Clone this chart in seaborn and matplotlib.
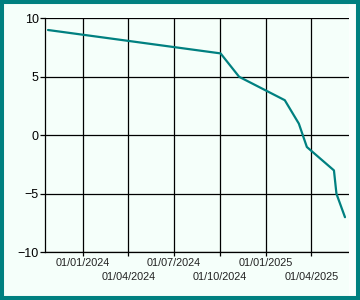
import matplotlib
matplotlib.use("Agg")
import matplotlib.pyplot as plt
import matplotlib.dates as mdates
from matplotlib.patches import Rectangle
import seaborn as sns
import pandas as pd

dates = ["2023-10-24", "2024-10-02", "2024-11-08", "2025-02-07", "2025-03-07",
         "2025-03-23", "2025-05-16", "2025-05-21", "2025-06-07"]
values = [9, 7, 5, 3, 1, -1, -3, -5, -7]
row1_ticks = ["2024-01-01", "2024-07-01", "2025-01-01"]
row2_ticks = ["2024-04-01", "2024-10-01", "2025-04-01"]
y_ticks = [-10, -5, 0, 5, 10]

df = pd.DataFrame({"date": pd.to_datetime(dates), "value": values})

sns.set_theme(style="white")
plt.rcParams["font.family"] = ["Liberation Sans", "DejaVu Sans"]

bg = "#F5FFFA"
teal = "#008080"
fig = plt.figure(figsize=(3.6, 3.0), dpi=100, facecolor=bg)

# lighter strip on the right inner edge
fig.patches.append(Rectangle((349/360, 0), 8/360, 1, transform=fig.transFigure,
                             facecolor="#FBFFFD", edgecolor="none", zorder=0))

ax = fig.add_axes([45/360, 1 - 252.3/300, (349-45)/360, (252.3-18.3)/300])
ax.set_facecolor(bg)

sns.lineplot(data=df, x="date", y="value", ax=ax, color=teal, linewidth=1.6)

ax.set_xlim(pd.Timestamp("2023-10-18"), pd.Timestamp("2025-06-15"))
ax.set_ylim(-10, 10)
ax.set_yticks(y_ticks)
ax.set_xticks(pd.to_datetime(row1_ticks))
ax.set_xticks(pd.to_datetime(row2_ticks), minor=True)
ax.xaxis.set_major_formatter(mdates.DateFormatter("%d/%m/%Y"))
ax.xaxis.set_minor_formatter(mdates.DateFormatter("%d/%m/%Y"))

ax.grid(True, which="both", color="black", linewidth=0.9)
for s in ["top", "right"]:
    ax.spines[s].set_visible(False)
for s in ["left", "bottom"]:
    ax.spines[s].set_color("black")
    ax.spines[s].set_linewidth(0.9)

ax.tick_params(axis="y", which="major", length=3.6, width=0.9, color="black",
               labelsize=9, labelcolor="black", pad=1, left=True)
ax.tick_params(axis="x", which="major", length=3, width=0.9, color="black",
               labelsize=7.8, labelcolor="#222222", pad=1.2, bottom=True)
ax.tick_params(axis="x", which="minor", length=3, width=0.9, color="black",
               labelsize=7.8, labelcolor="#222222", pad=11.2, bottom=True)
ax.set_xlabel("")
ax.set_ylabel("")

fig.patches.append(Rectangle((0, 0), 1, 1, transform=fig.transFigure,
                             fill=False, edgecolor=teal, linewidth=5.8,
                             zorder=10))

fig.savefig("out.png", dpi=100, facecolor=bg)
